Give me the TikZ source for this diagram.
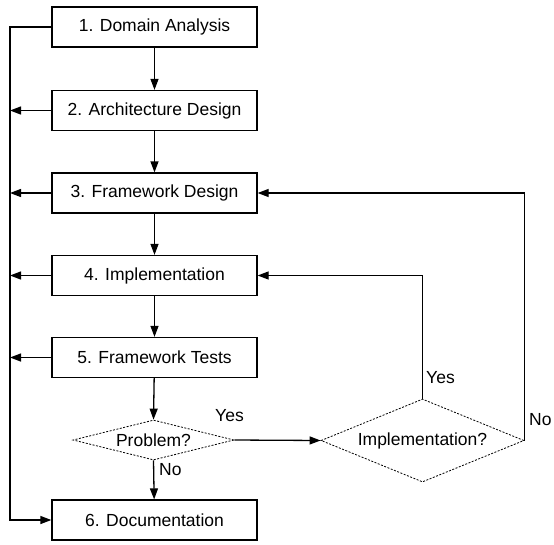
\documentclass[tikz,border=0pt]{standalone}
\usepackage{fontspec}
\setmainfont{Liberation Sans}
\usetikzlibrary{shapes.geometric,arrows.meta}
\begin{document}
\begin{tikzpicture}[x=1pt,y=-1pt,
  every node/.style={font=\fontsize{17.5}{20}\selectfont},
  box/.style={draw,line width=1.3pt,minimum width=205pt,minimum height=40pt,inner sep=0pt},
  dia/.style={diamond,draw,line width=0.8pt,dash pattern=on 2pt off 1.5pt,inner sep=0pt,aspect=2},
  lbl/.style={inner sep=0pt},
  conn/.style={line width=1.3pt},
  arr/.style={conn,-{Triangle[length=11pt,width=8pt]}}]
\useasboundingbox (0,0) rectangle (554,544);
\node[box] (b1) at (154.5,27) {1. Domain Analysis};
\node[box] (b2) at (154.5,110.5) {2. Architecture Design};
\node[box] (b3) at (154.5,193) {3. Framework Design};
\node[box] (b4) at (154.5,275.5) {4. Implementation};
\node[box] (b5) at (154.5,357.5) {5. Framework Tests};
\node[box] (b6) at (154.5,520) {6. Documentation};
\node[dia,minimum width=161pt,minimum height=40pt] (p) at (153.5,440) {};
\node[lbl] at (p.center) {Problem?};
\node[dia,minimum width=203pt,minimum height=83pt] (q) at (422.5,440.5) {};
\node[lbl] at (q.center) {Implementation?};
\coordinate (L) at (10,0);
\coordinate (R) at (524,0);
% main chain
\draw[arr] (b1) -- (b2);
\draw[arr] (b2) -- (b3);
\draw[arr] (b3) -- (b4);
\draw[arr] (b4) -- (b5);
\draw[arr] (b5) -- (p.north);
\draw[arr] (p.south) -- (b6);
% left line
\draw[arr] (b1.west) -- (b1.west -| L) -- (b6.west -| L) -- (b6.west);
\draw[arr] (b2.west) -- (b2.west -| L);
\draw[arr] (b3.west) -- (b3.west -| L);
\draw[arr] (b4.west) -- (b4.west -| L);
\draw[arr] (b5.west) -- (b5.west -| L);
% decisions
\draw[arr] (p.east) -- (q.west);
\draw[arr] (q.north) -- (q.north |- b4.east) -- (b4.east);
\draw[arr] (q.east) -- (q.east |- b3.east) -- (b3.east);
% labels
\node[lbl,anchor=west] at (215,416) {Yes};
\node[lbl,anchor=west] at (159,470) {No};
\node[lbl,anchor=west] at (426,378) {Yes};
\node[lbl,anchor=west] at (529,420) {No};
\end{tikzpicture}
\end{document}
